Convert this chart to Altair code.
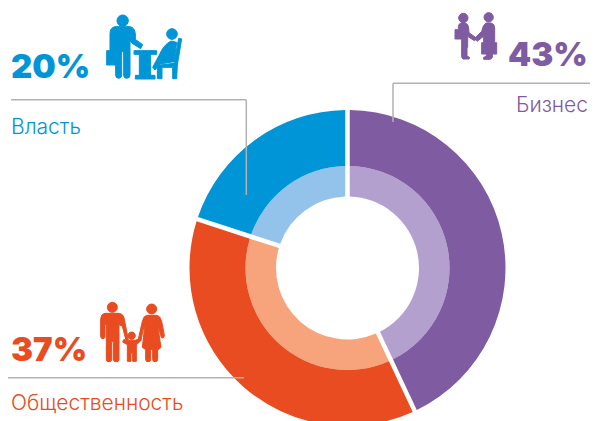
import math
import altair as alt
import pandas as pd

# --- chart values ---
names = ["Бизнес", "Общественность", "Власть"]
shares = [43, 37, 20]
pct_labels = ["43%", "37%", "20%"]
dark = ["#7F5BA1", "#E84C20", "#0095D6"]
light = ["#B4A0CF", "#F7A47C", "#93C3EA"]

# layout, in picture pixels
OFF = 8
CX, CY = 347.5, 268
R_OUT, R_MID, R_IN = 158, 102, 71.5
GAP = 4.5
GREY = "#B2B2B2"

ends = []
t = 0
for s in shares:
    t += s
    ends.append(t)
starts = [0] + ends[:-1]
ring = pd.DataFrame({"name": names, "start": starts, "end": ends, "dark": dark, "light": light})

theta_scale = alt.Scale(domain=[0, 100], range=[0, 2 * math.pi])


def ring_layer(r0, r1, colour_field):
    pad = GAP / math.sqrt(r0 * r0 + r1 * r1)
    return alt.Chart(ring).mark_arc(innerRadius=r0, outerRadius=r1, padAngle=pad).encode(
        theta=alt.Theta("start:Q", scale=theta_scale),
        theta2="end:Q",
        color=alt.Color(f"{colour_field}:N", scale=None),
        x=alt.value(CX - OFF),
        y=alt.value(CY - OFF),
    )


# leader lines
seg_x = [11, 246.3, 393, 393, 8]
seg_x2 = [246.3, 246.3, 590, 393, 244]
seg_y = [99.8, 99.8, 83.3, 83.3, 377.8]
seg_y2 = [99.8, 195, 83.3, 122, 377.8]
segs = pd.DataFrame({
    "x": [v - OFF for v in seg_x], "x2": [v - OFF for v in seg_x2],
    "y": [v - OFF for v in seg_y], "y2": [v - OFF for v in seg_y2],
})
rules = alt.Chart(segs).mark_rule(color=GREY, strokeWidth=1.5).encode(
    x=alt.X("x:Q", scale=None), x2="x2:Q",
    y=alt.Y("y:Q", scale=None), y2="y2:Q",
)

# texts
pct = pd.DataFrame({
    "t": pct_labels, "c": dark,
    "x": [508 - OFF, 11 - OFF, 11 - OFF],
    "y": [65.8 - OFF, 360.7 - OFF, 77.5 - OFF],
})
pct_text = alt.Chart(pct).mark_text(
    font="Inter", fontSize=33, fontWeight=900, align="left", baseline="alphabetic"
).encode(
    x=alt.X("x:Q", scale=None), y=alt.Y("y:Q", scale=None),
    text="t:N", color=alt.Color("c:N", scale=None),
)

lab = pd.DataFrame({
    "t": names, "c": dark,
    "x": [588 - OFF, 11 - OFF, 11 - OFF],
    "y": [112 - OFF, 410 - OFF, 133.5 - OFF],
    "a": ["right", "left", "left"],
})
lab_left = alt.Chart(lab[lab.a == "left"]).mark_text(
    font="Inter", fontSize=21, fontWeight=300, align="left", baseline="alphabetic"
).encode(
    x=alt.X("x:Q", scale=None), y=alt.Y("y:Q", scale=None),
    text="t:N", color=alt.Color("c:N", scale=None),
)
lab_right = alt.Chart(lab[lab.a == "right"]).mark_text(
    font="Inter", fontSize=21, fontWeight=300, align="right", baseline="alphabetic"
).encode(
    x=alt.X("x:Q", scale=None), y=alt.Y("y:Q", scale=None),
    text="t:N", color=alt.Color("c:N", scale=None),
)


def disc(cx, cy, r):
    return f"M{cx - r} {cy}A{r} {r} 0 1 1 {cx + r} {cy}A{r} {r} 0 1 1 {cx - r} {cy}Z"


# pictograms, drawn at 1/3 of these path units
icon_blue = (
    disc(68, 32, 17)
    + "M45 50L90 50Q104 52 106 72L106 88L128 104L122 116L96 100L90 92L90 195Q90 205 80 205Q71 205 71 195L71 125L65 125"
      "L65 195Q65 205 56 205Q47 205 47 195L47 165L20 165L20 122L30 122L30 72Q30 52 45 50Z"
    + "M102 122L170 122L170 133L152 133L152 196L165 196L165 207L106 207L106 196L118 196L118 133L102 133Z"
    + disc(216, 72, 16)
    + "M213 93L230 97L222 155L180 162L165 180L158 172L178 135Q190 105 213 93Z"
    + "M236 85L245 87L232 165L230 206L218 206L218 172L186 172L186 206L172 206L172 166L222 160Z"
)
icon_purple = (
    disc(37, 30, 14) + disc(113, 28, 14)
    + "M30 45L42 45Q52 47 53 60L54 74L76 90L70 98L50 85L50 118L48 118L48 145L56 148L54 153L36 153Q32 150 32 145"
      "L32 93L12 93L12 65L22 65L22 55Q24 46 30 45Z"
    + "M105 45L120 45Q131 47 131 60L131 104L137 104L137 138L124 138L124 148Q122 154 116 154L98 154L98 148L106 145"
      "L106 138L92 138L92 104L98 104L98 85L78 100L70 92L92 70Q96 50 105 45Z"
)
icon_orange = (
    disc(52, 28, 15)
    + "M30 46L72 46Q86 48 88 64L100 125L93 127L82 85L72 80L72 185Q72 191 65 191Q55 191 55 185L55 130L50 130L50 185"
      "Q50 191 42 191Q34 191 34 185L34 80L30 80L30 115Q30 122 24 122Q17 122 17 115L17 62Q18 48 30 46Z"
    + disc(110, 113, 11)
    + "M100 127L121 127L136 120L139 127L124 140L124 190L113 190L113 165L108 165L108 190L97 190L97 140L83 132L86 125Z"
    + disc(170, 33, 15)
    + "M155 52L186 52Q196 54 200 70L208 112Q208 120 202 120Q198 120 197 112L190 85L190 95L198 148L190 155L188 155"
      "L188 185Q188 191 180 191Q173 191 173 185L173 155L167 155L167 185Q167 191 160 191Q152 191 152 185L152 155"
      "L142 148L148 95L148 80L138 125L130 124L142 70Q146 54 155 52Z"
)


def icon(path, colour, ox, oy):
    return alt.Chart(pd.DataFrame({"k": [0]})).mark_point(
        shape=path, filled=True, size=4 / 9, opacity=1, fill=colour, stroke=colour, strokeWidth=1
    ).encode(x=alt.value(ox - OFF), y=alt.value(oy - OFF))


chart = alt.layer(
    ring_layer(R_IN, R_MID, "light"),
    ring_layer(R_MID, R_OUT, "dark"),
    rules,
    pct_text,
    lab_left,
    lab_right,
    icon(icon_blue, dark[2], 100, 10),
    icon(icon_purple, dark[0], 451, 8),
    icon(icon_orange, dark[1], 95, 298),
).properties(
    width=582, height=413, padding=0, autosize=alt.AutoSizeParams(type="none")
).configure_view(stroke=None)

chart.save("out.html", embed_options={"renderer": "svg", "actions": False})
